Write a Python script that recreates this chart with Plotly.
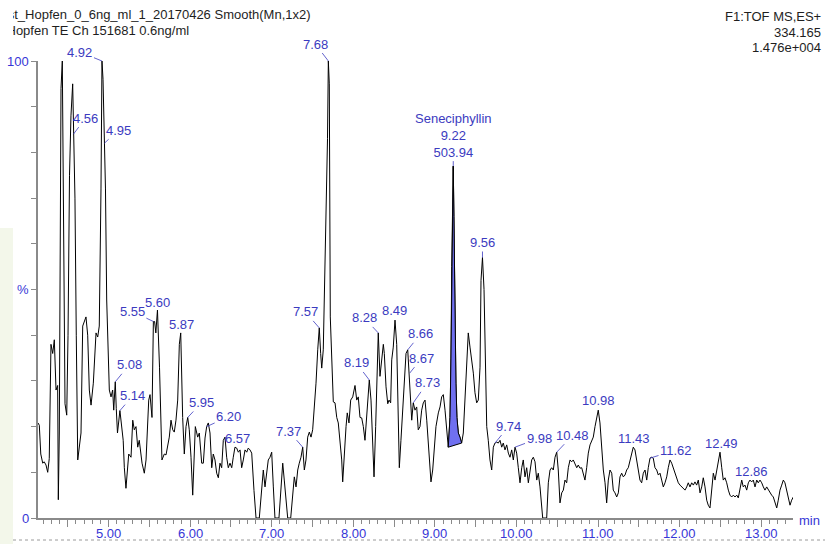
import plotly.graph_objects as go

# ---------------- data (retention time in min, intensity in %) ----------------
rt = [
    4.136, 4.152, 4.170, 4.194, 4.212, 4.234, 4.255, 4.274, 4.295, 4.316,
    4.336, 4.357, 4.377, 4.385, 4.397, 4.406, 4.418, 4.434, 4.448, 4.467,
    4.488, 4.504, 4.522, 4.540, 4.561, 4.571, 4.589, 4.605, 4.623, 4.663,
    4.684, 4.724, 4.745, 4.765, 4.786, 4.814, 4.847, 4.868, 4.887, 4.908,
    4.920, 4.933, 4.949, 4.963, 4.978, 4.990, 5.010, 5.031, 5.051, 5.064,
    5.083, 5.095, 5.110, 5.140, 5.160, 5.180, 5.194, 5.214, 5.248, 5.276,
    5.297, 5.316, 5.337, 5.358, 5.377, 5.411, 5.439, 5.460, 5.493, 5.509,
    5.533, 5.550, 5.565, 5.580, 5.600, 5.625, 5.655, 5.684, 5.705, 5.745,
    5.766, 5.787, 5.806, 5.827, 5.848, 5.868, 5.885, 5.909, 5.929, 5.950,
    5.971, 5.990, 6.011, 6.032, 6.064, 6.093, 6.113, 6.142, 6.162, 6.183,
    6.203, 6.223, 6.244, 6.265, 6.284, 6.305, 6.326, 6.346, 6.366, 6.387,
    6.407, 6.428, 6.448, 6.468, 6.489, 6.510, 6.529, 6.550, 6.571, 6.591,
    6.612, 6.632, 6.652, 6.673, 6.694, 6.713, 6.734, 6.755, 6.783, 6.808,
    6.848, 6.877, 6.897, 6.918, 6.939, 6.958, 6.979, 7.000, 7.020, 7.040,
    7.089, 7.114, 7.135, 7.154, 7.175, 7.196, 7.233, 7.257, 7.277, 7.298,
    7.319, 7.338, 7.359, 7.380, 7.400, 7.420, 7.441, 7.461, 7.482, 7.502,
    7.522, 7.543, 7.564, 7.583, 7.600, 7.613, 7.632, 7.653, 7.674, 7.684,
    7.694, 7.706, 7.718, 7.735, 7.755, 7.776, 7.797, 7.816, 7.837, 7.858,
    7.870, 7.890, 7.911, 7.926, 7.947, 7.968, 7.993, 8.021, 8.042, 8.061,
    8.082, 8.103, 8.123, 8.143, 8.164, 8.184, 8.196, 8.217, 8.238, 8.254,
    8.274, 8.294, 8.306, 8.327, 8.348, 8.368, 8.380, 8.401, 8.422, 8.438,
    8.458, 8.471, 8.490, 8.511, 8.532, 8.551, 8.564, 8.584, 8.605, 8.625,
    8.646, 8.667, 8.679, 8.691, 8.703, 8.716, 8.735, 8.756, 8.777, 8.796,
    8.817, 8.838, 8.858, 8.879, 8.900, 8.919, 8.940, 8.952, 8.973, 8.993,
    9.013, 9.042, 9.063, 9.083, 9.103, 9.124, 9.145, 9.164, 9.185, 9.197,
    9.206, 9.213, 9.225, 9.233, 9.246, 9.258, 9.270, 9.287, 9.307, 9.328,
    9.348, 9.369, 9.390, 9.409, 9.430, 9.451, 9.471, 9.491, 9.512, 9.532,
    9.553, 9.565, 9.583, 9.602, 9.614, 9.635, 9.654, 9.675, 9.696, 9.716,
    9.736, 9.757, 9.777, 9.798, 9.819, 9.838, 9.859, 9.880, 9.900, 9.920,
    9.941, 9.961, 9.982, 10.002, 10.022, 10.043, 10.064, 10.083, 10.104, 10.125,
    10.145, 10.165, 10.186, 10.206, 10.227, 10.248, 10.267, 10.288, 10.309, 10.321,
    10.370, 10.390, 10.411, 10.431, 10.451, 10.472, 10.493, 10.512, 10.533, 10.554,
    10.574, 10.594, 10.615, 10.635, 10.656, 10.676, 10.696, 10.717, 10.738, 10.757,
    10.778, 10.799, 10.819, 10.839, 10.860, 10.880, 10.901, 10.922, 10.941, 10.962,
    10.983, 11.002, 11.023, 11.044, 11.064, 11.085, 11.105, 11.125, 11.146, 11.167,
    11.186, 11.207, 11.228, 11.248, 11.268, 11.289, 11.309, 11.330, 11.350, 11.370,
    11.391, 11.412, 11.431, 11.452, 11.473, 11.493, 11.513, 11.534, 11.554, 11.575,
    11.596, 11.615, 11.636, 11.657, 11.676, 11.697, 11.718, 11.738, 11.759, 11.779,
    11.799, 11.820, 11.841, 11.860, 11.881, 11.902, 11.922, 11.942, 11.963, 11.983,
    12.004, 12.024, 12.044, 12.065, 12.086, 12.105, 12.126, 12.147, 12.167, 12.187,
    12.208, 12.228, 12.249, 12.270, 12.289, 12.310, 12.331, 12.350, 12.371, 12.392,
    12.412, 12.433, 12.453, 12.473, 12.494, 12.515, 12.534, 12.555, 12.576, 12.596,
    12.616, 12.637, 12.657, 12.678, 12.699, 12.718, 12.739, 12.760, 12.779, 12.800,
    12.821, 12.841, 12.861, 12.882, 12.902, 12.923, 12.944, 12.963, 12.984, 13.005,
    13.025, 13.045, 13.066, 13.086, 13.107, 13.127, 13.147, 13.168, 13.189, 13.208,
    13.229, 13.250, 13.270, 13.290, 13.311, 13.331, 13.352, 13.372, 13.392,
]

intensity = [
    20.8, 20.3, 14.0, 12.0, 12.3, 11.6, 10.0, 13.0, 38.0, 36.0,
    39.0, 28.0, 29.0, 4.0, 18.6, 74.6, 94.0, 100.0, 60.0, 25.0,
    22.5, 40.0, 75.0, 88.0, 95.0, 84.0, 70.0, 40.0, 12.7, 18.6,
    42.0, 44.0, 40.0, 28.0, 24.7, 29.5, 40.5, 39.6, 42.0, 72.0,
    100.0, 96.0, 82.0, 72.0, 47.7, 40.5, 28.0, 26.5, 28.0, 23.6,
    29.8, 24.0, 18.6, 23.5, 20.0, 17.0, 11.0, 6.5, 14.0, 13.3,
    21.4, 19.3, 20.0, 15.5, 17.0, 12.0, 9.8, 12.7, 25.8, 27.0,
    22.0, 43.0, 43.0, 40.5, 45.5, 33.0, 12.7, 14.0, 13.8, 17.7,
    21.4, 19.3, 18.8, 21.4, 25.8, 38.0, 40.5, 22.0, 14.0, 20.0,
    22.0, 19.3, 13.3, 5.0, 20.0, 17.7, 18.6, 12.0, 12.0, 17.5,
    20.0, 20.8, 18.6, 11.0, 14.0, 12.7, 9.8, 8.8, 12.0, 11.0,
    17.0, 17.7, 13.3, 11.0, 12.0, 11.0, 13.3, 15.5, 15.3, 14.4,
    14.9, 11.0, 12.7, 14.9, 14.4, 15.3, 14.9, 14.2, 6.0, 0.0,
    0.0, 6.0, 10.5, 6.8, 9.8, 12.7, 13.3, 14.4, 6.8, 0.0,
    0.0, 6.8, 12.0, 8.3, 3.3, 0.0, 0.0, 5.5, 9.0, 6.8,
    10.5, 12.0, 13.3, 15.5, 10.5, 12.7, 17.7, 18.8, 17.7, 19.3,
    23.6, 29.5, 36.8, 41.6, 36.0, 32.8, 36.8, 52.7, 69.0, 83.0,
    100.0, 95.0, 44.0, 33.0, 25.4, 25.2, 22.0, 20.8, 17.0, 12.7,
    7.9, 14.9, 20.0, 23.0, 20.8, 25.8, 26.5, 29.0, 25.8, 26.5,
    22.0, 21.9, 20.0, 17.0, 23.0, 28.0, 30.2, 25.8, 17.0, 9.0,
    20.0, 36.0, 40.5, 31.0, 35.0, 38.0, 36.0, 28.7, 25.0, 25.8,
    25.2, 34.6, 37.4, 43.3, 38.0, 16.4, 11.0, 17.0, 23.6, 29.5,
    36.0, 36.8, 33.0, 31.7, 25.8, 21.4, 25.2, 23.6, 24.3, 19.3,
    20.0, 23.6, 25.2, 25.8, 21.4, 17.0, 10.5, 7.9, 10.5, 15.5,
    20.0, 23.0, 24.3, 26.5, 27.0, 23.6, 18.6, 15.5, 22.0, 35.0,
    55.0, 66.0, 77.0, 66.0, 45.0, 29.5, 22.0, 18.6, 17.7, 16.4,
    18.6, 25.8, 33.0, 40.5, 37.4, 35.0, 31.7, 27.4, 25.2, 25.8,
    33.0, 52.0, 57.0, 50.0, 37.4, 20.0, 17.0, 12.7, 10.5, 15.5,
    16.4, 16.6, 16.4, 17.0, 15.5, 16.4, 14.9, 16.0, 14.2, 13.3,
    14.9, 12.7, 15.5, 14.2, 11.0, 7.7, 11.0, 12.7, 9.0, 11.0,
    7.7, 10.5, 12.7, 13.3, 12.3, 8.3, 9.8, 6.8, 1.8, 0.0,
    0.0, 7.7, 10.5, 11.0, 10.5, 13.3, 14.4, 10.5, 3.3, 5.5,
    6.1, 8.3, 7.7, 11.0, 12.7, 12.3, 12.7, 12.0, 11.0, 11.6,
    10.9, 11.0, 9.8, 8.3, 11.0, 14.2, 16.0, 17.0, 17.7, 20.0,
    22.0, 23.6, 20.8, 15.5, 10.5, 7.7, 3.3, 8.3, 10.5, 9.8,
    6.1, 5.5, 4.6, 5.5, 9.0, 9.8, 9.0, 9.4, 10.5, 11.0,
    12.7, 14.4, 15.5, 14.9, 12.7, 10.5, 8.3, 7.7, 9.8, 10.5,
    8.3, 11.0, 13.1, 13.3, 13.1, 11.0, 10.5, 9.4, 9.8, 8.3,
    6.8, 7.7, 9.0, 11.0, 12.7, 12.0, 10.9, 9.8, 8.3, 7.7,
    7.2, 6.8, 6.6, 6.1, 6.8, 7.7, 6.8, 7.7, 7.2, 7.9,
    7.2, 8.3, 5.5, 6.8, 8.8, 6.8, 3.9, 2.8, 2.2, 6.1,
    9.8, 8.3, 10.5, 12.0, 14.4, 11.0, 8.3, 8.8, 7.7, 6.1,
    5.0, 4.6, 5.0, 4.6, 5.0, 4.4, 6.1, 8.3, 6.8, 7.2,
    6.1, 7.7, 8.3, 7.9, 8.3, 6.8, 8.3, 7.7, 8.3, 7.7,
    6.8, 6.1, 6.8, 6.1, 5.5, 5.0, 4.6, 3.5, 2.2, 3.9,
    6.1, 7.2, 8.3, 7.7, 6.1, 3.9, 2.8, 3.9, 4.6,
]

# integrated peak window (Seneciphyllin)
peak_window = (9.164, 9.328)

# peak labels: text, retention time the label refers to
label_text = ["4.92", "4.56", "4.95", "5.08", "5.14", "5.55", "5.60", "5.87",
              "5.95", "6.20", "6.57", "7.37", "7.57", "7.68", "8.19", "8.28",
              "8.49", "8.66", "8.67", "8.73", "Seneciphyllin<br>9.22<br>503.94",
              "9.56", "9.74", "9.98", "10.48", "10.98", "11.43", "11.62",
              "12.49", "12.86"]
label_time = [4.920, 4.571, 4.949, 5.083, 5.140, 5.550, 5.600, 5.885,
              5.971, 6.203, 6.571, 7.380, 7.583, 7.694, 8.196, 8.306,
              8.511, 8.667, 8.691, 8.735, 9.225,
              9.583, 9.736, 9.982, 10.493, 11.002, 11.431, 11.636,
              12.494, 12.861]

x_tick_vals = [4.5, 5.0, 5.5, 6.0, 6.5, 7.0, 7.5, 8.0, 8.5, 9.0, 9.5,
               10.0, 10.5, 11.0, 11.5, 12.0, 12.5, 13.0]
x_tick_text = ["", "5.00", "", "6.00", "", "7.00", "", "8.00", "", "9.00", "",
               "10.00", "", "11.00", "", "12.00", "", "13.00"]
y_tick_vals = [0, 10, 20, 30, 40, 50, 60, 70, 80, 90, 100]
y_tick_text = ["0", "", "", "", "", "%", "", "", "", "", "100"]

header_left = ["Test_Hopfen_0_6ng_ml_1_20170426 Smooth(Mn,1x2)",
               "Hopfen TE Ch 151681 0.6ng/ml"]
header_right = ["F1:TOF MS,ES+", "334.165", "1.476e+004"]

# ---------------- layout / style (pixel geometry) ----------------
W, H = 825, 544
ML = 13                      # left edge of the pasted chromatogram image
PW = W - ML
AX_L, AX_R = 38, 793         # x-axis line extent (px)
AX_TOP, AX_BOT = 61, 518     # y-axis 100 % and 0 % (px)
PX_PER_MIN = 81.6
PX_AT_5 = 108.5

def t_at(px):
    return 5 + (px - PX_AT_5) / PX_PER_MIN

def paper_x(px):
    return (px - ML) / PW

def paper_y(py):
    return 1 - py / H

FONT = "Liberation Sans, Arial, sans-serif"
BLUE_AX = "#3636d6"
BLUE_LB = "#3b3bc0"
GRAY = "#8a8a8a"
FS = 13

# label text offsets (px) from the labelled point, and whether a leader is drawn
label_dx = [-22, 12, 14, 14, 13, -21, 0, 1,
            14, 22, 1, -14, -14, -13, -13, -14,
            -1, 13, 12, 14, 0,
            0, 14, 24, 16, 0, 1, 26,
            1, 2]
label_dy = [-9, -16, -13, -17, -15, -10, -8, -8,
            -15, -10, -10, -16, -16, -17, -17, -15,
            -10, -16, -15, -20, -31,
            -15, -17, -9, -17, -10, -9, -8,
            -9, -9]
label_leader = [True, True, True, True, True, True, False, False,
                True, True, False, True, True, True, True, True,
                False, True, True, True, True,
                True, True, True, True, False, False, True,
                False, False]

fig = go.Figure()

# background decoration of the slide
fig.add_shape(type="rect", xref="paper", yref="paper",
              x0=paper_x(0), x1=0, y0=0, y1=paper_y(228),
              fillcolor="#f3f7ea", line_width=0, layer="below")
fig.add_shape(type="line", xref="paper", yref="paper",
              x0=0, x1=1, y0=paper_y(540), y1=paper_y(540),
              line=dict(color="#9a9a9a", width=1, dash="dot"), layer="below")

# chromatogram
fig.add_trace(go.Scatter(x=rt, y=intensity, mode="lines",
                         line=dict(color="#000000", width=1),
                         cliponaxis=False, hoverinfo="skip", showlegend=False))

# integrated peak fill with baseline
idx = [i for i, t in enumerate(rt) if peak_window[0] <= t <= peak_window[1]]
fx = [rt[i] for i in idx] + [rt[idx[0]]]
fy = [intensity[i] for i in idx] + [intensity[idx[0]]]
fig.add_trace(go.Scatter(x=fx, y=fy, mode="lines", fill="toself",
                         fillcolor="#7070f0",
                         line=dict(color="#000000", width=1),
                         hoverinfo="skip", showlegend=False))

# peak labels
def nearest(t):
    return min(range(len(rt)), key=lambda i: abs(rt[i] - t))

for txt, t, dx, dy, lead in zip(label_text, label_time, label_dx, label_dy, label_leader):
    i = nearest(t)
    common = dict(x=rt[i], y=intensity[i], xref="x", yref="y", text=txt,
                  font=dict(family=FONT, size=FS, color=BLUE_LB),
                  xanchor="center", yanchor="middle")
    if lead:
        fig.add_annotation(**common, showarrow=True, ax=dx, ay=dy,
                           arrowhead=0, arrowwidth=0.8, arrowcolor=BLUE_LB,
                           standoff=0, startstandoff=0)
    else:
        fig.add_annotation(**common, showarrow=False, xshift=dx, yshift=-dy)

# axis tick labels (placed like the instrument software does)
for v, s in zip(x_tick_vals, x_tick_text):
    if s:
        fig.add_annotation(x=v, y=paper_y(533), xref="x", yref="paper", text=s,
                           showarrow=False, xanchor="center", yanchor="middle",
                           font=dict(family=FONT, size=FS, color=BLUE_AX))
for v, s in zip(y_tick_vals, y_tick_text):
    if s:
        fig.add_annotation(x=paper_x(31), y=v, xref="paper", yref="y", text=s,
                           showarrow=False, xanchor="right", yanchor="middle",
                           font=dict(family=FONT, size=FS, color=BLUE_AX))

# header texts (left ones clipped by the image edge -> text traces on an overlay subplot)
for k, line in enumerate(header_left):
    fig.add_trace(go.Scatter(x=[-6 if k == 0 else 6.5], y=[16 + 16 * k],
                             mode="text", text=[line], textposition="middle right",
                             textfont=dict(family=FONT, size=FS, color="#1e1e1e"),
                             xaxis="x2", yaxis="y2", hoverinfo="skip",
                             showlegend=False))
for k, line in enumerate(header_right):
    fig.add_annotation(x=paper_x(823), y=paper_y(16.5 + 15.5 * k),
                       xref="paper", yref="paper", text=line, showarrow=False,
                       xanchor="right", yanchor="middle",
                       font=dict(family=FONT, size=FS, color="#1e1e1e"))

# "min" unit label
fig.add_annotation(x=paper_x(797), y=paper_y(520), xref="paper", yref="paper",
                   text="min", showarrow=False, xanchor="left", yanchor="middle",
                   font=dict(family=FONT, size=FS, color=BLUE_AX))

fig.update_layout(
    width=W, height=H,
    margin=dict(l=ML, r=0, t=0, b=0, pad=0, autoexpand=False),
    paper_bgcolor="#ffffff", plot_bgcolor="rgba(0,0,0,0)",
    showlegend=False,
    xaxis=dict(domain=[paper_x(AX_L), paper_x(AX_R)],
               range=[t_at(AX_L), t_at(AX_R)], anchor="y", automargin=False,
               showgrid=False, zeroline=False, showline=True,
               linecolor=GRAY, linewidth=2,
               tickmode="array", tickvals=x_tick_vals, showticklabels=False,
               ticks="outside", ticklen=7, tickwidth=1, tickcolor=GRAY,
               minor=dict(dtick=0.1, tick0=0, ticks="outside", ticklen=4,
                          tickwidth=1, tickcolor=GRAY, showgrid=False),
               fixedrange=True),
    yaxis=dict(domain=[1 - AX_BOT / H, 1 - AX_TOP / H],
               range=[0, 100], anchor="x", automargin=False,
               showgrid=False, zeroline=False, showline=True,
               linecolor=GRAY, linewidth=2,
               tickmode="array", tickvals=y_tick_vals, showticklabels=False,
               ticks="outside", ticklen=5, tickwidth=1, tickcolor=GRAY,
               fixedrange=True),
    xaxis2=dict(domain=[0, 1], range=[ML, W], anchor="y2", visible=False,
                fixedrange=True, automargin=False),
    yaxis2=dict(domain=[0, 1], range=[H, 0], anchor="x2", visible=False,
                fixedrange=True, automargin=False),
)

fig.write_html("out.html", config={"displayModeBar": False},
               post_script="document.body.style.margin='0px';")
